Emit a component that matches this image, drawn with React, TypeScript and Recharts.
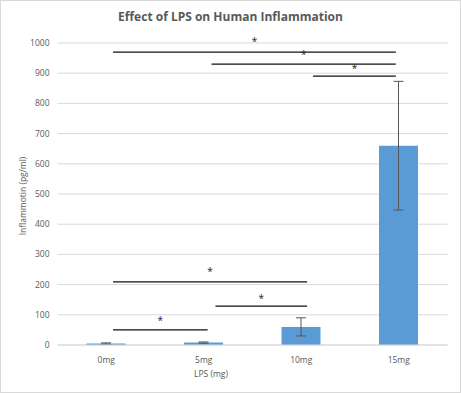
import React from 'react';
import {
  ComposedChart, Bar, XAxis, YAxis, CartesianGrid, ErrorBar, ReferenceLine, ReferenceDot,
} from 'recharts';

const doses = ['0mg', '5mg', '10mg', '15mg'];
const inflammotin = [5, 8, 60, 660];
const errors = [2, 2, 30, 213];
const yTicks = [0, 100, 200, 300, 400, 500, 600, 700, 800, 900, 1000];

// significance brackets: from / to in category index units, y in pg/ml
const sigFrom = [0.07, 1.08, 2.12, 0.07, 1.12, 0.07];
const sigTo = [2.97, 2.97, 2.97, 2.06, 2.06, 1.04];
const sigY = [970, 930, 890, 209, 129, 50];
const starY = [1002, 960, 912, 240, 150, 80];

const data = doses.map((d, i) => ({ idx: i, dose: d, value: inflammotin[i], err: errors[i] }));

const grey = '#595959';
const font = '"Open Sans", sans-serif';

const Star = (props: any) => (
  <text x={props.cx} y={props.cy} textAnchor="middle" dominantBaseline="middle"
    fontSize={10} fill="#222" fontFamily={font}>*</text>
);

export default function App() {
  return (
    <div style={{ position: 'absolute', left: 0, top: 0, width: 461, height: 393, background: '#fff' }}>
      <div style={{ position: 'absolute', left: 0, top: 0, width: 459, height: 391, border: '1px solid #d9d9d9' }} />
      <div style={{
        position: 'absolute', left: 0, top: 8, width: 461, textAlign: 'center',
        fontFamily: font, fontWeight: 700, fontSize: 12, color: grey,
      }}>Effect of LPS on Human Inflammation</div>
      <div style={{
        position: 'absolute', left: 22, top: 196, transform: 'translate(-50%, -50%) rotate(-90deg)',
        fontFamily: font, fontSize: 8.5, color: grey, whiteSpace: 'nowrap',
      }}>Inflammotin (pg/ml)</div>
      <div style={{
        position: 'absolute', left: 211, top: 373, transform: 'translate(-50%, -50%)',
        fontFamily: font, fontSize: 8.5, color: grey, whiteSpace: 'nowrap',
      }}>LPS (mg)</div>
      <ComposedChart width={461} height={393} data={data}
        margin={{ top: 43, right: 13.5, left: 17.5, bottom: 28 }}
        style={{ position: 'absolute', left: 0, top: 0 }}>
        <CartesianGrid vertical={false} stroke="#d9d9d9" />
        <XAxis dataKey="idx" type="number" domain={[-0.5, 3.5]} ticks={[0, 1, 2, 3]}
          allowDataOverflow tickFormatter={(v: number) => doses[v]}
          stroke="#d9d9d9" tickLine={false} height={20}
          tick={{ fill: grey, fontSize: 8.5, fontFamily: font }} tickMargin={6} />
        <YAxis domain={[0, 1000]} ticks={yTicks} width={40} axisLine={false} tickLine={false}
          tick={{ fill: grey, fontSize: 8.5, fontFamily: font }} />
        <Bar dataKey="value" fill="#5b9bd5" barSize={39} isAnimationActive={false}>
          <ErrorBar dataKey="err" width={5} stroke="#555" strokeWidth={1} />
        </Bar>
        {sigY.map((y, i) => (
          <ReferenceLine key={'l' + i} stroke="#111" strokeWidth={1.3}
            segment={[{ x: sigFrom[i], y }, { x: sigTo[i], y }]} ifOverflow="visible" />
        ))}
        {starY.map((y, i) => (
          <ReferenceDot key={'s' + i} x={(sigFrom[i] + sigTo[i]) / 2} y={y}
            shape={Star} ifOverflow="visible" />
        ))}
      </ComposedChart>
    </div>
  );
}
